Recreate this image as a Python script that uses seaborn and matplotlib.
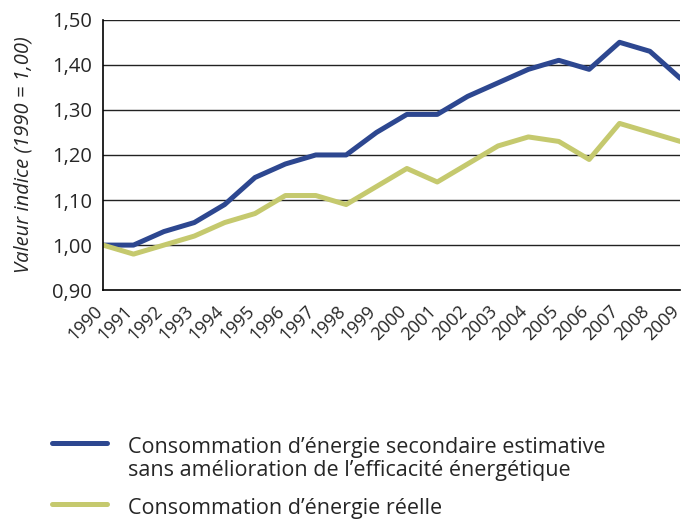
import pandas as pd
import matplotlib
matplotlib.use("Agg")
import matplotlib.pyplot as plt
import seaborn as sns

# Data
years = list(range(1990, 2010))
sans_amelioration = [1.00, 1.00, 1.03, 1.05, 1.09, 1.15, 1.18, 1.20, 1.20, 1.25,
                     1.29, 1.29, 1.33, 1.36, 1.39, 1.41, 1.39, 1.45, 1.43, 1.37]
reelle = [1.00, 0.98, 1.00, 1.02, 1.05, 1.07, 1.11, 1.11, 1.09, 1.13,
          1.17, 1.14, 1.18, 1.22, 1.24, 1.23, 1.19, 1.27, 1.25, 1.23]
series_labels = ["Consommation d\u2019\u00e9nergie secondaire estimative\nsans am\u00e9lioration de l\u2019efficacit\u00e9 \u00e9nerg\u00e9tique",
                 "Consommation d\u2019\u00e9nergie r\u00e9elle"]
y_ticks = [0.90, 1.00, 1.10, 1.20, 1.30, 1.40, 1.50]

df = pd.DataFrame({
    "annee": years * 2,
    "valeur": sans_amelioration + reelle,
    "serie": [series_labels[0]] * len(years) + [series_labels[1]] * len(years),
})

sns.set_style("white")
plt.rcParams["font.family"] = ["Open Sans", "DejaVu Sans"]

fig = plt.figure(figsize=(6.83, 5.2), dpi=100)
ax = fig.add_axes([0.151, 0.442, 0.845, 0.52])

palette = {series_labels[0]: "#2d4790", series_labels[1]: "#c5c96e"}
sns.lineplot(data=df, x="annee", y="valeur", hue="serie", palette=palette,
             linewidth=3.6, ax=ax, legend=False)

ax.set_xlim(1990, 2009)
ax.set_ylim(0.90, 1.50)
ax.set_yticks(y_ticks)
ax.set_yticklabels([f"{v:.2f}".replace(".", ",") for v in y_ticks], fontsize=14.5)
ax.set_xticks(years)
ax.set_xticklabels([str(y) for y in years], rotation=45, ha="right", va="baseline",
                   rotation_mode="anchor", fontsize=13)
ax.tick_params(axis="x", direction="in", length=6, width=1, color="black", pad=16)
ax.tick_params(axis="y", length=0, pad=8)

for v in y_ticks[1:]:
    ax.axhline(v, color="#222222", linewidth=1, zorder=0)

for side in ["top", "right"]:
    ax.spines[side].set_visible(False)
for side in ["left", "bottom"]:
    ax.spines[side].set_color("black")
    ax.spines[side].set_linewidth(1.2)

ax.set_xlabel("")
ax.set_ylabel("Valeur indice (1990 = 1,00)", fontsize=14.5, style="italic")
ax.yaxis.set_label_coords(-0.121, 0.5)

# legend drawn below the plot, handle aligned with the first text line
leg_x0, leg_x1, leg_tx = 52 / 683, 107 / 683, 128 / 683
leg_rows = [1 - 443 / 520, 1 - 504 / 520]
for s, yy in zip(series_labels, leg_rows):
    fig.add_artist(plt.Line2D([leg_x0, leg_x1], [yy, yy], color=palette[s],
                              linewidth=3.6, transform=fig.transFigure))
    fig.text(leg_tx, yy + 0.012, s, fontsize=15.5, va="top", ha="left",
             linespacing=1.12)

fig.savefig("out.png", dpi=100)
